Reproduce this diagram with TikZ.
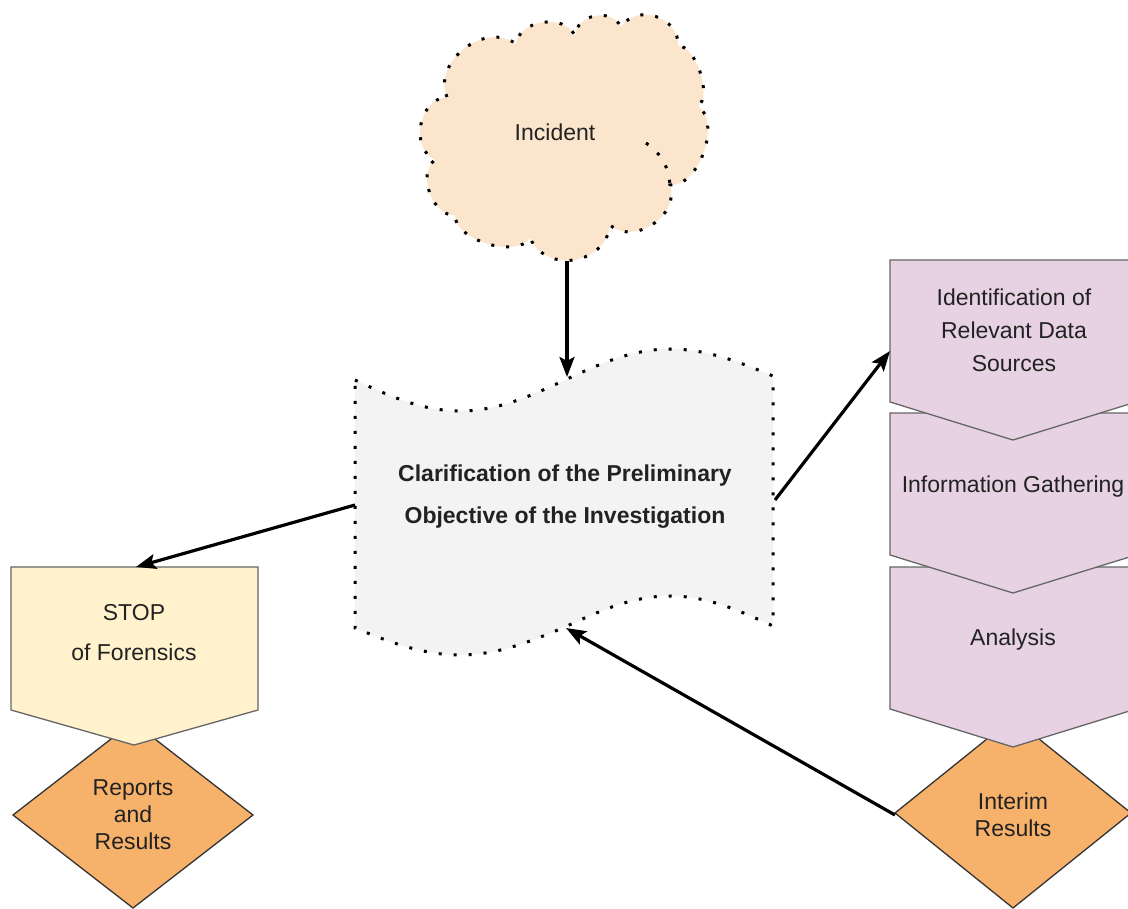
\documentclass[tikz,border=0pt]{standalone}
\usepackage{fontspec}
\setmainfont{Liberation Sans}
\usetikzlibrary{arrows.meta}

\definecolor{cloudfill}{HTML}{FCE5CD}
\definecolor{wavefill}{HTML}{F3F3F3}
\definecolor{stopfill}{HTML}{FFF2CC}
\definecolor{phasefill}{HTML}{E6D2E2}
\definecolor{resultfill}{HTML}{F6B26B}
\definecolor{edgegray}{HTML}{666666}
\definecolor{textdark}{HTML}{222222}

\begin{document}
\begin{tikzpicture}[x=1pt, y=-1pt,
  dotborder/.style={line width=3pt, dash pattern=on 3pt off 12pt},
  phasebox/.style={fill=phasefill, draw=edgegray, line width=1.3pt, line join=miter},
  stopbox/.style={fill=stopfill, draw=edgegray, line width=1.3pt, line join=miter},
  resultbox/.style={fill=resultfill, draw=black!80, line width=1.3pt},
  label/.style={text=textdark, align=center, inner sep=0pt, font=\fontsize{23}{33}\selectfont},
  link/.style={line width=3.2pt, -{Stealth[length=20pt, width=15pt, inset=4pt]}},
]
\useasboundingbox (0,0) rectangle (1128,909);
\clip (0,0) rectangle (1128,909);

% cloud: overlapping puffs
\path[fill=cloudfill, draw=black, dotborder]
  (447,97) to[bend left=75, looseness=1.13] (516,44)
  to[bend left=75, looseness=1.06] (575,36)
  to[bend left=75, looseness=1.2] (621,27)
  to[bend left=75, looseness=1.23] (678,46)
  to[bend left=75, looseness=0.71] (698,106)
  to[bend left=75, looseness=0.88] (670,185)
  to[bend left=75, looseness=1.13] (610,225)
  to[bend left=75, looseness=1.25] (530,238)
  to[bend left=75, looseness=0.81] (455,215)
  to[bend left=75, looseness=0.98] (435,160)
  to[bend left=75, looseness=1.13] (447,97) -- cycle;
\draw[dotborder] (646,143) to[bend left=25] (670,185);
\node[label] (incident) at (555,132) {Incident};

% wavy document
\path[fill=wavefill, draw=black, dotborder]
  (355,380) sin (460,411) cos (565,380) sin (670,349) cos (773,376)
  -- (773,626) sin (670,596) cos (565,627) sin (460,655) cos (355,628) -- cycle;
\node[label, font=\fontsize{23}{42}\selectfont\bfseries] (clarif) at (565,497)
  {Clarification of the Preliminary\\Objective of the Investigation};

% left branch: stop and reports
\path[resultbox] (133,722) -- (253,815) -- (133,908) -- (13,815) -- cycle;
\node[label, font=\fontsize{23}{27}\selectfont] (reports) at (133,815) {Reports\\and\\Results};
\path[stopbox] (11,567) -- (258,567) -- (258,710) -- (134,745) -- (11,710) -- cycle;
\node[label, font=\fontsize{23}{40}\selectfont] (stop) at (134,633) {STOP\\of Forensics};

% right branch: investigation phases and interim results
\path[resultbox] (1013,718) -- (1131,813) -- (1013,908) -- (895,813) -- cycle;
\node[label, font=\fontsize{23}{27}\selectfont] (interim) at (1013,815) {Interim\\Results};
\path[phasebox] (890,567) -- (1136,567) -- (1136,709) -- (1013,747) -- (890,709) -- cycle;
\node[label] (analysis) at (1013,640) {Analysis};
\path[phasebox] (890,413) -- (1136,413) -- (1136,555) -- (1013,593) -- (890,555) -- cycle;
\node[label] (gather) at (1013,487) {Information Gathering};
\path[phasebox] (890,260) -- (1136,260) -- (1136,402) -- (1013,440) -- (890,402) -- cycle;
\node[label] (ident) at (1014,330) {Identification of\\Relevant Data\\Sources};

% connector end points on the shape borders
\coordinate (cloudBottom) at (567,261);
\coordinate (waveTop) at (567,377);
\coordinate (waveLeft) at (355,505);
\coordinate (waveRight) at (775,500);
\coordinate (waveBottom) at (566,628);
\coordinate (stopTop) at (136,567);
\coordinate (identLeft) at (890,351);
\coordinate (interimLeft) at (895,815);

\draw[link] (cloudBottom) -- (waveTop);
\draw[link] (waveLeft) -- (stopTop);
\draw[link] (waveRight) -- (identLeft);
\draw[link] (interimLeft) -- (waveBottom);
\end{tikzpicture}
\end{document}
